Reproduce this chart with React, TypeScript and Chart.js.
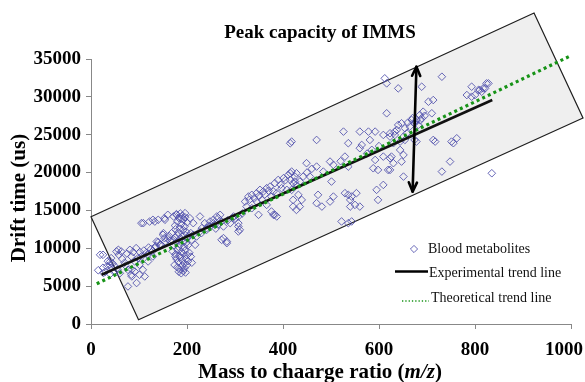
import React, { useEffect, useRef } from "react";
import { Chart, registerables } from "chart.js";

Chart.register(...registerables);

// ---- Data ----
const xTickValues = [0, 200, 400, 600, 800, 1000];
const yTickValues = [0, 5000, 10000, 15000, 20000, 25000, 30000, 35000];

const bloodMetabolites: [number, number][] = [
  [19, 9140], [25, 9140], [42, 8700], [39, 7820], [42, 7430], [25, 7430], [35, 8300], [45, 8000], [50, 7600], [30, 6900],
  [48, 6900], [55, 7200], [63, 9580], [58, 9140], [53, 9580], [57, 9800], [81, 9800], [84, 8920], [94, 10020], [91, 8260],
  [98, 8700], [101, 7820], [91, 6940], [101, 6500], [84, 6500], [77, 4960], [95, 5410], [85, 7200], [70, 8100], [65, 8600],
  [75, 9300], [88, 9500], [60, 6700], [15, 7100], [40, 6600], [72, 7700], [77, 7160], [85, 6280], [40, 8260], [33, 7600], [26, 6730],
  [105, 13320], [109, 13320], [122, 13530], [129, 13760], [133, 13530], [140, 13760], [153, 13980], [154, 13760], [160, 14420],
  [150, 11780], [153, 11340], [151, 12000], [137, 10900], [133, 10020], [129, 8920], [143, 10460], [115, 9360], [105, 8920],
  [119, 8260], [108, 7160], [112, 6280], [110, 9700], [120, 10100], [125, 9900], [135, 10300], [140, 10800], [145, 10500],
  [155, 10900], [160, 11200], [165, 11000], [118, 9100], [128, 9600], [102, 9500], [163, 11600], [168, 12000], [178, 14420],
  [196, 14640], [227, 14200],
  [172, 14200], [178, 14500], [183, 14000], [186, 14600], [190, 14300], [193, 13800], [180, 13500], [188, 13200], [195, 12900],
  [175, 13000], [185, 12600], [192, 12400], [198, 12200], [182, 12100], [176, 12500], [200, 13400], [188, 13900], [196, 14100],
  [170, 11000], [175, 11400], [180, 11700], [185, 11200], [190, 11500], [195, 11800], [200, 11300], [178, 10800], [186, 10500],
  [192, 10900], [198, 10700], [204, 11600], [208, 12000], [182, 10200], [173, 10400], [194, 10200], [202, 10400],
  [170, 9600], [176, 9200], [180, 9800], [184, 9000], [188, 9500], [192, 9300], [196, 9700], [200, 9100], [205, 9400],
  [178, 8600], [182, 8200], [186, 8800], [190, 8400], [194, 8000], [198, 8600], [202, 8300], [174, 7800], [180, 7500],
  [185, 7200], [190, 7700], [195, 7400], [200, 7800], [183, 6900], [192, 7000], [188, 6700], [197, 6800], [176, 8900],
  [208, 8900], [210, 8100],
  [206, 13980], [213, 13320], [220, 11560], [210, 11120], [217, 10460], [237, 13320], [248, 13540], [255, 13760], [262, 14200],
  [269, 14420], [258, 13100], [248, 12880], [265, 13100], [272, 13540], [241, 12440], [231, 12660], [276, 11340], [283, 10900],
  [307, 13320], [310, 12440], [307, 14200], [297, 14200], [276, 12880], [290, 13320], [272, 11120], [283, 10680], [241, 12660],
  [255, 13320], [265, 13980], [227, 12220], [213, 11780], [307, 12880], [307, 12220], [285, 13700], [300, 13900], [230, 12000],
  [245, 13000], [260, 12600], [295, 14000], [315, 14600],
  [321, 16170], [328, 16830], [335, 17060], [345, 17280], [352, 17720], [359, 17500], [366, 17940], [373, 18150], [383, 18600],
  [390, 19030], [401, 19260], [411, 19690], [418, 20130], [428, 19910], [415, 19030], [425, 18810], [397, 17940], [408, 17720],
  [387, 17280], [376, 16830], [345, 16170], [356, 16400], [324, 15510], [335, 15290], [366, 15730], [387, 14200], [376, 14860],
  [349, 14420], [383, 14420], [415, 23870], [421, 15510], [428, 15070], [421, 16390], [380, 14420], [340, 16600], [330, 16400],
  [362, 17100], [370, 17600], [395, 18400], [405, 19000], [380, 17500], [350, 16900],
  [418, 24090], [470, 24310], [526, 25410], [560, 25410], [578, 25410], [592, 25410], [616, 27830], [536, 23880], [564, 23650],
  [560, 23220], [581, 24310], [609, 24970], [623, 25190], [633, 25410], [640, 26290], [449, 21240], [470, 20790], [498, 21450],
  [505, 21010], [529, 22110], [536, 20790], [592, 21670], [609, 22110], [623, 21890], [588, 20570], [598, 20350], [619, 20350],
  [630, 21240], [415, 19910], [425, 19470], [435, 18810], [428, 18370], [442, 19470], [421, 18600], [418, 17720], [432, 17060],
  [439, 16390], [435, 15510], [473, 17060], [470, 15960], [481, 15510], [498, 16170], [505, 16830], [529, 17280], [536, 17060],
  [543, 16830], [553, 17280], [540, 16390], [550, 15730], [560, 15510], [540, 15510], [595, 17720], [598, 16390], [609, 18370],
  [522, 13540], [536, 13320], [543, 13540], [501, 18810], [456, 19470], [484, 20130], [450, 20000], [460, 20500], [520, 21500],
  [575, 22500], [585, 23000], [600, 23500], [612, 32450], [616, 31780],
  [731, 32660], [640, 31120], [689, 31340], [793, 31340], [824, 31780], [817, 31120], [807, 30900], [814, 30680], [783, 30240],
  [793, 30020], [703, 29360], [713, 29580], [692, 28040], [685, 27610], [689, 27170], [678, 26950], [668, 26950], [674, 26510],
  [664, 26070], [682, 26290], [710, 27830], [647, 26510], [637, 25630], [654, 25850], [633, 24970], [651, 24750], [658, 25190],
  [623, 24750], [644, 24090], [630, 23880], [654, 24310], [674, 24310], [678, 24090], [713, 24310], [717, 24090], [751, 24090],
  [762, 24530], [755, 23880], [644, 22990], [651, 22330], [626, 22110], [647, 21450], [748, 21450], [731, 20130], [651, 19470],
  [835, 19910], [623, 20350], [810, 30900], [821, 31120], [828, 31780], [800, 30240], [670, 27200], [676, 26700], [686, 26900],
  [660, 26600], [695, 27500],
];

const experimentalMass = [22, 836];
const experimentalDrift = [6500, 29590];
const theoreticalMass = [12, 1000];
const theoreticalDrift = [5316, 35450];

// Peak-capacity band (corners, in data units)
const bandMass = [0, 923, 1025, 99];
const bandDrift = [14156, 41070, 27206, 567];

// Double-headed arrow (top, bottom)
const arrowMass = [678, 670];
const arrowDrift = [33980, 17490];

const titleText = "Peak capacity of IMMS";
const yTitleText = "Drift time (us)";
const xTitleParts = ["Mass to chaarge ratio (", "m/z", ")"];
const legendLabels = ["Blood metabolites", "Experimental trend line", "Theoretical trend line"];

const SERIF = "'Liberation Serif', 'Times New Roman', Times, serif";
const POINT_COLOR = "rgba(78,78,172,0.85)";
const GREEN = "#179317";

const decorPlugin = {
  id: "decor",
  beforeDatasetsDraw(chart: any) {
    const { ctx, scales } = chart;
    const x = scales.x, y = scales.y;
    ctx.save();
    ctx.beginPath();
    bandMass.forEach((m, i) => {
      const px = x.getPixelForValue(m);
      const py = y.getPixelForValue(bandDrift[i]);
      if (i === 0) ctx.moveTo(px, py);
      else ctx.lineTo(px, py);
    });
    ctx.closePath();
    ctx.fillStyle = "#efefef";
    ctx.fill();
    ctx.strokeStyle = "#1e1e1e";
    ctx.lineWidth = 1.2;
    ctx.stroke();
    ctx.restore();
  },
  afterDatasetsDraw(chart: any) {
    const { ctx, scales } = chart;
    const x = scales.x, y = scales.y;
    const x1 = x.getPixelForValue(arrowMass[0]);
    const y1 = y.getPixelForValue(arrowDrift[0]);
    const x2 = x.getPixelForValue(arrowMass[1]);
    const y2 = y.getPixelForValue(arrowDrift[1]);
    ctx.save();
    ctx.strokeStyle = "#000";
    ctx.lineWidth = 2.6;
    ctx.lineCap = "round";
    ctx.lineJoin = "round";
    ctx.beginPath();
    ctx.moveTo(x1, y1);
    ctx.lineTo(x2, y2);
    ctx.stroke();
    const head = (tx: number, ty: number, fx: number, fy: number) => {
      const ang = Math.atan2(ty - fy, tx - fx);
      const len = 10;
      const spread = 0.42;
      ctx.beginPath();
      ctx.moveTo(tx - len * Math.cos(ang - spread), ty - len * Math.sin(ang - spread));
      ctx.lineTo(tx, ty);
      ctx.lineTo(tx - len * Math.cos(ang + spread), ty - len * Math.sin(ang + spread));
      ctx.stroke();
    };
    head(x1, y1, x2, y2);
    head(x2, y2, x1, y1);
    ctx.restore();
  },
  afterDraw(chart: any) {
    const { ctx } = chart;
    ctx.save();
    ctx.fillStyle = "#000";
    // Title
    ctx.font = `bold 19px ${SERIF}`;
    ctx.textAlign = "center";
    ctx.textBaseline = "alphabetic";
    ctx.fillText(titleText, 320, 38);

    // X title with italic m/z
    const fonts = [`bold 21px ${SERIF}`, `italic bold 21px ${SERIF}`, `bold 21px ${SERIF}`];
    let total = 0;
    const widths = xTitleParts.map((t, i) => {
      ctx.font = fonts[i];
      const w = ctx.measureText(t).width;
      total += w;
      return w;
    });
    let cx = 320 - total / 2;
    ctx.textAlign = "left";
    xTitleParts.forEach((t, i) => {
      ctx.font = fonts[i];
      ctx.fillText(t, cx, 378);
      cx += widths[i];
    });

    // Y title
    ctx.save();
    ctx.translate(25, 198);
    ctx.rotate(-Math.PI / 2);
    ctx.font = `bold 21px ${SERIF}`;
    ctx.textAlign = "center";
    ctx.textBaseline = "alphabetic";
    ctx.fillText(yTitleText, 0, 0);
    ctx.restore();

    // Legend
    ctx.font = `14px ${SERIF}`;
    ctx.textAlign = "left";
    ctx.textBaseline = "alphabetic";
    ctx.strokeStyle = POINT_COLOR;
    ctx.lineWidth = 1;
    ctx.beginPath();
    const dx = 414, dy = 249, r = 3.6;
    ctx.moveTo(dx, dy - r);
    ctx.lineTo(dx + r, dy);
    ctx.lineTo(dx, dy + r);
    ctx.lineTo(dx - r, dy);
    ctx.closePath();
    ctx.stroke();
    ctx.fillStyle = "#111";
    ctx.fillText(legendLabels[0], 428, 253);
    ctx.strokeStyle = "#000";
    ctx.lineWidth = 2.5;
    ctx.beginPath();
    ctx.moveTo(395, 271.5);
    ctx.lineTo(428, 271.5);
    ctx.stroke();
    ctx.fillText(legendLabels[1], 429, 276.5);
    ctx.strokeStyle = GREEN;
    ctx.lineWidth = 1.3;
    ctx.setLineDash([1.3, 2]);
    ctx.beginPath();
    ctx.moveTo(402, 301);
    ctx.lineTo(429, 301);
    ctx.stroke();
    ctx.setLineDash([]);
    ctx.fillText(legendLabels[2], 431, 301.5);
    ctx.restore();
  },
};

export default function App() {
  const canvasRef = useRef<HTMLCanvasElement | null>(null);

  useEffect(() => {
    document.body.style.margin = "0";
    const canvas = canvasRef.current;
    if (!canvas) return;
    const chart = new Chart(canvas, {
      type: "scatter",
      data: {
        datasets: [
          {
            label: legendLabels[2],
            type: "line",
            data: theoreticalMass.map((m, i) => ({ x: m, y: theoreticalDrift[i] })),
            borderColor: GREEN,
            borderWidth: 3.2,
            borderDash: [3, 3.2],
            pointRadius: 0,
            fill: false,
            clip: false as any,
            order: 1,
          } as any,
          {
            label: legendLabels[1],
            type: "line",
            data: experimentalMass.map((m, i) => ({ x: m, y: experimentalDrift[i] })),
            borderColor: "#111",
            borderWidth: 2.6,
            pointRadius: 0,
            fill: false,
            order: 2,
          } as any,
          {
            label: legendLabels[0],
            data: bloodMetabolites.map(([m, d]) => ({ x: m, y: d })),
            pointStyle: "rectRot",
            pointRadius: 3.8,
            borderWidth: 1,
            borderColor: POINT_COLOR,
            backgroundColor: "rgba(0,0,0,0)",
            order: 3,
          } as any,
        ],
      },
      options: {
        responsive: false,
        maintainAspectRatio: false,
        animation: false,
        events: [],
        layout: { padding: { top: 59, right: 14, left: 0, bottom: 0 } },
        plugins: {
          legend: { display: false },
          tooltip: { enabled: false },
          title: { display: false },
        },
        scales: {
          x: {
            type: "linear",
            min: 0,
            max: 1000,
            afterFit: (s: any) => { s.height = 58; s.paddingLeft = 0; s.paddingRight = 0; },
            afterBuildTicks: (s: any) => { s.ticks = xTickValues.map((v) => ({ value: v })); },
            ticks: {
              color: "#000",
              padding: 10,
              font: { family: SERIF, size: 19, weight: "bold" },
              maxRotation: 0,
              callback: (v: any) => (v === 1000 ? "1000   " : String(v)),
            },
            grid: { drawOnChartArea: false, drawTicks: true, tickLength: 5, color: "#888" },
            border: { display: true, color: "#888", width: 1 },
          },
          y: {
            type: "linear",
            min: 0,
            max: 35000,
            afterFit: (s: any) => { s.width = 91; s.paddingTop = 0; s.paddingBottom = 0; },
            afterBuildTicks: (s: any) => { s.ticks = yTickValues.map((v) => ({ value: v })); },
            ticks: {
              color: "#000",
              padding: 5,
              font: { family: SERIF, size: 19, weight: "bold" },
              callback: (v: any) => String(v),
            },
            grid: { drawOnChartArea: false, drawTicks: true, tickLength: 5, color: "#888" },
            border: { display: true, color: "#888", width: 1 },
          },
        },
      },
      plugins: [decorPlugin],
    } as any);
    return () => chart.destroy();
  }, []);

  return (
    <div style={{ width: 585, height: 382, background: "#fff" }}>
      <canvas ref={canvasRef} width={585} height={382} style={{ display: "block" }} />
    </div>
  );
}
